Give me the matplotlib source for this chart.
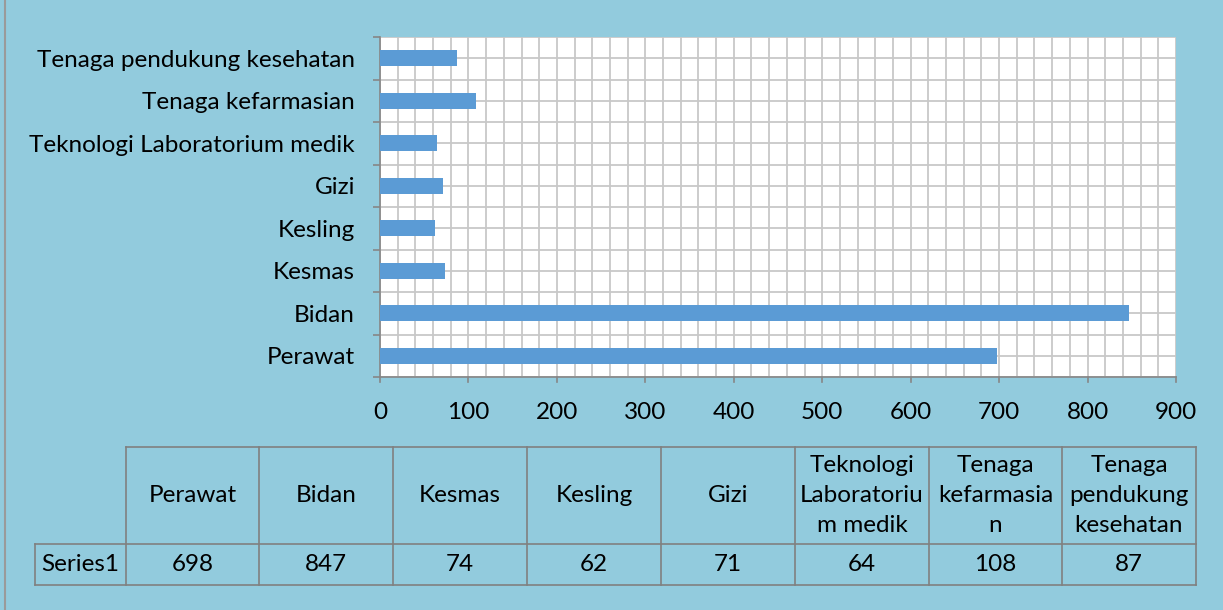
import matplotlib.pyplot as plt
from matplotlib.lines import Line2D
import numpy as np

plt.rcParams['font.family'] = ['Lato', 'DejaVu Sans']

# data (bottom to top in the chart)
categories = ['Perawat', 'Bidan', 'Kesmas', 'Kesling', 'Gizi',
              'Teknologi Laboratorium medik', 'Tenaga kefarmasian',
              'Tenaga pendukung kesehatan']
values = [698, 847, 74, 62, 71, 64, 108, 87]
table_headers = ['Perawat', 'Bidan', 'Kesmas', 'Kesling', 'Gizi',
                 'Teknologi\nLaboratoriu\nm medik', 'Tenaga\nkefarmasia\nn',
                 'Tenaga\npendukung\nkesehatan']
series_name = 'Series1'

W, H = 1223, 610
bg = '#92CBDD'
fs = 17.5
fig = plt.figure(figsize=(W / 100, H / 100), dpi=100, facecolor=bg)

ax = fig.add_axes([380 / W, 1 - 377 / H, (1176 - 380) / W, (377 - 37) / H])
ax.set_facecolor('white')

y = np.arange(len(categories))
ax.barh(y, values, height=0.38, color='#5B9BD5', zorder=3)

ax.set_xlim(0, 900)
ax.set_ylim(-0.5, len(categories) - 0.5)
ax.set_xticks(np.arange(0, 901, 100))
ax.set_xticks(np.arange(0, 901, 20), minor=True)
ax.set_yticks(y)
ax.set_yticks(np.arange(-0.5, len(categories), 1), minor=True)
ax.set_yticklabels(categories, fontsize=fs)
ax.tick_params(axis='x', labelsize=fs, length=0, which='both', pad=18)
ax.tick_params(axis='y', length=0, which='major', pad=18)
ax.tick_params(axis='y', which='minor', length=5, color='#868686', width=1.2)
ax.grid(True, which='both', color='#C8C8C8', linewidth=1.3, zorder=0)
for x in np.arange(0, 901, 100):
    ax.plot([x, x], [-0.5, -0.62], color='#868686', lw=1.2, clip_on=False)

for s in ['top', 'right']:
    ax.spines[s].set_visible(False)
for s in ['left', 'bottom']:
    ax.spines[s].set_color('#868686')
    ax.spines[s].set_linewidth(1.2)

# data table under the chart
col_edges = [126, 259, 393, 527, 661, 795, 929, 1062, 1196]
row_edges = [447, 544, 585]


def fx(px):
    return px / W


def fy(py):
    return 1 - py / H


for py in row_edges:
    x0 = 35 if py != row_edges[0] else col_edges[0]
    fig.add_artist(Line2D([fx(x0), fx(col_edges[-1])], [fy(py), fy(py)],
                          color='#808080', lw=1.2))
for px in col_edges:
    fig.add_artist(Line2D([fx(px), fx(px)], [fy(row_edges[0]), fy(row_edges[-1])],
                          color='#808080', lw=1.2))
fig.add_artist(Line2D([fx(35), fx(35)], [fy(row_edges[1]), fy(row_edges[2])],
                      color='#808080', lw=1.2))

for i, (hdr, val) in enumerate(zip(table_headers, values)):
    cx = (col_edges[i] + col_edges[i + 1]) / 2
    fig.text(fx(cx), fy((row_edges[0] + row_edges[1]) / 2), hdr,
             ha='center', va='center', fontsize=fs, linespacing=1.55)
    fig.text(fx(cx), fy((row_edges[1] + row_edges[2]) / 2), str(val),
             ha='center', va='center', fontsize=fs)
fig.text(fx(80), fy((row_edges[1] + row_edges[2]) / 2), series_name,
         ha='center', va='center', fontsize=fs)

# outer border of the chart area
fig.add_artist(Line2D([fx(5), fx(5)], [0, 1], color='#9A9A9A', lw=1.5))

fig.savefig('out.png', dpi=100, facecolor=bg)
